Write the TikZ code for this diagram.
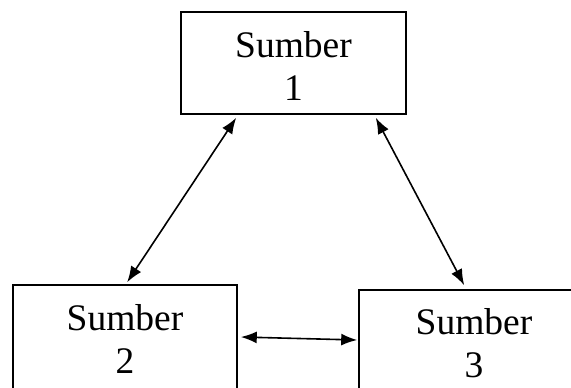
\documentclass[tikz,border=0pt]{standalone}
\usepackage{fontspec}
\setmainfont{Liberation Serif}
\usetikzlibrary{arrows.meta}
\begin{document}
\begin{tikzpicture}[x=1pt,y=1pt,
  box/.style={draw,line width=1.6pt,inner sep=0pt},
  txt/.style={align=center,inner sep=0pt,font=\fontsize{37.5}{43}\selectfont},
  conn/.style={line width=1.6pt,{Latex[length=16pt,width=12pt]}-{Latex[length=16pt,width=12pt]}}]
\clip (0,0) rectangle (571,-388);
\node[box,minimum width=225,minimum height=102,label={[txt,yshift=-3pt]center:{Sumber\\1}}] (b1) at (293.5,-63) {};
\node[box,minimum width=224,minimum height=108,label={[txt]center:{Sumber\\2}}] (b2) at (125,-339) {};
\node[box,minimum width=230,minimum height=106,label={[txt]center:{Sumber\\3}}] (b3) at (474,-343) {};
\draw[conn] ([xshift=56pt,yshift=-3pt]b1.south west) -- ([xshift=115pt,yshift=2pt]b2.north west);
\draw[conn] ([xshift=-31pt,yshift=-3pt]b1.south east) -- ([xshift=106pt,yshift=4pt]b3.north west);
\draw[conn] ([xshift=3pt,yshift=2pt]b2.east) -- ([xshift=-1pt,yshift=3pt]b3.west);
\end{tikzpicture}
\end{document}
